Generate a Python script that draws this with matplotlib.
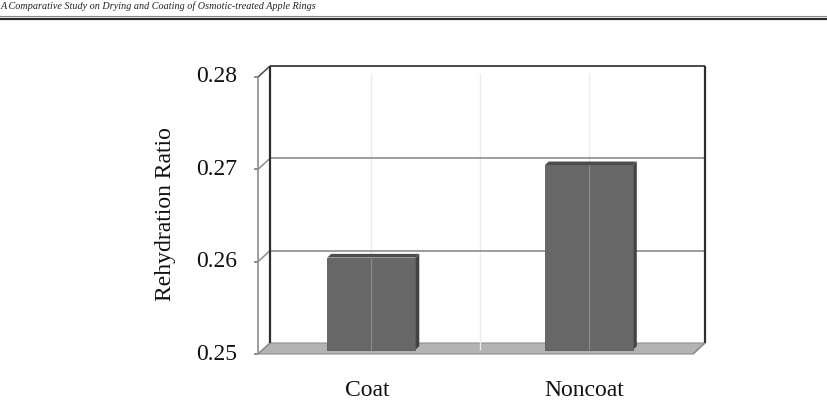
import matplotlib.pyplot as plt
from matplotlib.patches import Polygon
from matplotlib.lines import Line2D

categorias = ['Coat', 'Noncoat']
valores = [0.26, 0.27]
marcas_y = [0.25, 0.26, 0.27, 0.28]
titulo_eje_y = 'Rehydration Ratio'
cabecera = 'A Comparative Study on Drying and Coating of Osmotic-treated Apple Rings'

plt.rcParams['font.family'] = ['Liberation Serif', 'DejaVu Serif']

ANCHO, ALTO = 827, 416
PROF = (-12, 11)        # profundidad del efecto 3D, en pixeles (derecha, abajo)
FRENTE_BARRA = (-7.5, 6.9)
FONDO_BARRA = (-3.5, 3.2)
ANCHO_BARRA = 0.405

fig = plt.figure(figsize=(ANCHO / 100, ALTO / 100), dpi=100)
# la pared del fondo ocupa x 270-705, y 66-343 en pixeles
ax = fig.add_axes([270 / ANCHO, (ALTO - 343) / ALTO, 435 / ANCHO, 277 / ALTO])
ax.set_xlim(-0.5, len(categorias) - 0.5)
ax.set_ylim(marcas_y[0], marcas_y[-1])
ax.axis('off')


def mover(x, y, dx, dy):
    # desplaza un punto de datos dx pixeles a la derecha y dy pixeles hacia abajo
    px, py = ax.transData.transform((x, y))
    return tuple(ax.transData.inverted().transform((px + dx, py - dy)))


def linea(p, q, color, lw, z=3):
    ax.plot([p[0], q[0]], [p[1], q[1]], color=color, lw=lw, clip_on=False,
            zorder=z, solid_capstyle='butt')


x0, x1 = -0.5, len(categorias) - 0.5
y0, y1 = marcas_y[0], marcas_y[-1]

# suelo
suelo = [(x0, y0), (x1, y0), mover(x1, y0, *PROF), mover(x0, y0, *PROF)]
ax.add_patch(Polygon(suelo, closed=True, fc='#b3b3b3', ec='#8f8f8f', lw=0.8,
                     clip_on=False, zorder=1))

# rejilla, marcas y etiquetas del eje y
for v in marcas_y:
    frente = mover(x0, v, *PROF)
    if v != y0:
        color = '#4a4a4a' if v == y1 else '#8c8c8c'
        linea((x0, v), (x1, v), color, 1.4 if v == y1 else 1.2, 2)
    linea(frente, (x0, v), '#8c8c8c' if v != y1 else '#4a4a4a', 1.1)
    linea(mover(x0, v, PROF[0] - 4, PROF[1]), frente, '#6e6e6e', 1.1)
    ax.text(*mover(x0, v, PROF[0] - 21, PROF[1]), f'{v:.2f}', ha='right',
            va='center', fontsize=17, color='#111111')

# bordes de las paredes
linea((x0, y0), (x0, y1), '#2e2e2e', 1.6)
linea((x1, y0), (x1, y1), '#2e2e2e', 1.6)
linea(mover(x0, y0, *PROF), mover(x0, y1, *PROF), '#8c8c8c', 1.2)
linea((x1, y0), mover(x1, y0, *PROF), '#8c8c8c', 1.0)

# lineas verticales claras
for xv in [0, 0.5, 1]:
    linea(mover(xv, y0, *FRENTE_BARRA), mover(xv, y1, *FRENTE_BARRA), '#ececec', 1.0, 1.5)

# barras con efecto 3D
for i, v in enumerate(valores):
    izq, der = i - ANCHO_BARRA / 2, i + ANCHO_BARRA / 2
    f_ii, f_di = mover(izq, y0, *FRENTE_BARRA), mover(der, y0, *FRENTE_BARRA)
    f_is, f_ds = mover(izq, v, *FRENTE_BARRA), mover(der, v, *FRENTE_BARRA)
    a_di = mover(der, y0, *FONDO_BARRA)
    a_is, a_ds = mover(izq, v, *FONDO_BARRA), mover(der, v, *FONDO_BARRA)
    ax.add_patch(Polygon([f_di, a_di, a_ds, f_ds], closed=True, fc='#424242',
                         ec='none', clip_on=False, zorder=4))
    ax.add_patch(Polygon([f_is, f_ds, a_ds, a_is], closed=True, fc='#4d4d4d',
                         ec='none', clip_on=False, zorder=4))
    ax.add_patch(Polygon([f_ii, f_di, f_ds, f_is], closed=True, fc='#676767',
                         ec='#5a5a5a', lw=0.6, clip_on=False, zorder=5))
    # linea vertical clara que cruza la barra
    linea(mover(i, y0, *FRENTE_BARRA), mover(i, v, *FRENTE_BARRA), '#8a8a8a', 0.9, 6)

# etiquetas de categorias
for i, c in enumerate(categorias):
    ax.text(*mover(i, y0, PROF[0], PROF[1] + 36), c, ha='center', va='center',
            fontsize=17, color='#111111')

fig.text(166 / ANCHO, 1 - 214 / ALTO, titulo_eje_y, rotation=90, ha='center',
         va='center', fontsize=17, color='#111111')

# cabecera de la pagina
fig.text(1 / ANCHO, 1 - 9 / ALTO, cabecera, ha='left', va='baseline',
         style='italic', fontsize=7.3, color='#222222')
fig.add_artist(Line2D([0, 1], [1 - 16 / ALTO] * 2, color='#8a8a8a', lw=0.8))
fig.add_artist(Line2D([0, 1], [1 - 18.7 / ALTO] * 2, color='#2a2a2a', lw=1.6))

fig.savefig('out.png', dpi=100)
